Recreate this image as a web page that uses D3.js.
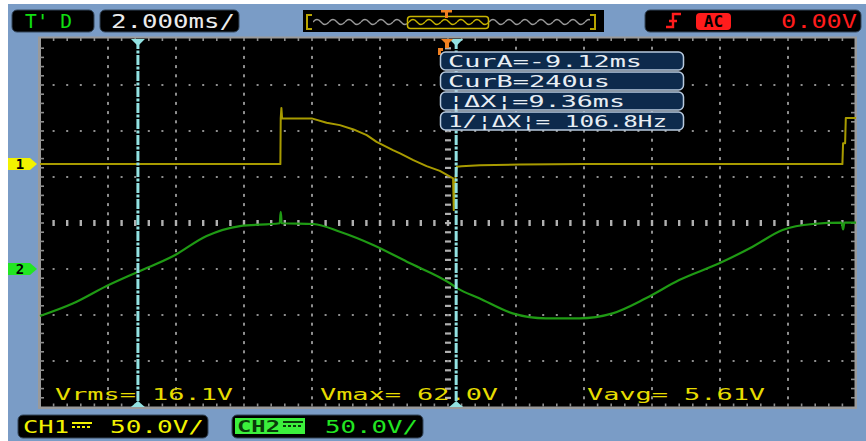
<!DOCTYPE html>
<html>
<head>
<meta charset="utf-8">
<script src="https://cdn.jsdelivr.net/npm/d3@7"></script>
<style>
  html, body { margin: 0; padding: 0; background: #7a9cc6; overflow: hidden; }
  svg { display: block; }
  text { font-family: "DejaVu Sans Mono", "Liberation Mono", monospace; }
</style>
</head>
<body>
<svg id="scope" width="866" height="441"></svg>
<script>
// ---- acquisition settings ----
const timePerDiv = 2;            // ms per division
const voltsPerDiv = [50, 50];    // CH1, CH2 (V/div)
const chOffsetDiv = [1.28, -1];  // ground reference of each channel, in divisions from centre

// ---- CH1 (yellow) samples: time in ms, voltage in V ----
const ch1Time  = [-12, -4.93, -4.92, -4.90, -4.88, -4.01, -3.57, -3.18, -2.78, -2.39, -2.10, -1.62, -1.41, -1.02, -0.63, -0.24, 0.15, 0.17, 0.19, 0.22, 0.26, 0.40, 0.94, 2.10, 4.00, 11.60, 11.62, 11.68, 11.70, 12];
const ch1Volts = [0, 0, 49.7, 60.9, 49.7, 49.7, 44.9, 42.4, 37.7, 31.5, 24.2, 15.2, 11.6, 4.3, -2.2, -7.3, -15.5, -50, -30, -15, -2.9, -2.2, -1.1, -0.5, 0, 0, 22.8, 22.8, 50, 50];

// ---- CH2 (green) samples ----
const ch2Time  = [-12, -11.02, -10.04, -9.11, -8.08, -7.10, -6.12, -4.95, -4.92, -4.89, -3.96, -3.18, -2.20, -1.21, 0.06, 0.28, 0.92, 1.90, 2.88, 3.86, 4.84, 5.82, 6.80, 7.98, 8.96, 9.84, 10.73, 11.58, 11.62, 11.66, 12];
const ch2Volts = [-51.1, -37.3, -18.5, -2.9, 14.1, 35.9, 46.7, 49.7, 62.0, 49.7, 48.9, 40.5, 26.1, 7.9, -15.5, -21.0, -31.8, -48.2, -53.6, -53.6, -48.2, -31.8, -12.0, 6.2, 24.2, 42.4, 48.9, 50.3, 43.0, 50.3, 50.3];

// ---- cursors and readouts ----
const cursorTimes = [-9.12, 0.24];   // CurA, CurB in ms
const cursorLabels = ["CurA=-9.12ms", "CurB=240us", "¦ΔX¦=9.36ms", "1/¦ΔX¦= 106.8Hz"];
const measureLabels = ["Vrms= 16.1V", "Vmax= 62.0V", "Vavg= 5.61V"];
const modeLabel = "T' D";
const timebaseLabel = "2.000ms/";
const triggerLevelLabel = "0.00V";
const channelNames = ["CH1", "CH2"];
const channelScaleLabels = ["50.0V/", "50.0V/"];

// ---- layout ----
const svg = d3.select("#scope");
const W = 866, H = 441;
const C = { bg: "#7a9cc6", grid: "#8e8e8e", border: "#9a9a9a", ch1: "#a89b00", ch2: "#1f9a14",
            ch1Tag: "#f2f200", ch2Tag: "#22e622", meas: "#e6dc00", cursor: "#92e2e2",
            boxFill: "#0d2a4c", boxStroke: "#b8cade", boxText: "#e8eef4", red: "#ff1c1c", orange: "#f08020" };

svg.append("rect").attr("width", W).attr("height", H).attr("fill", C.bg);
svg.append("rect").attr("width", W).attr("height", 4).attr("fill", "#ffffff");
svg.append("rect").attr("width", 8).attr("height", H).attr("fill", "#ffffff");

const x = d3.scaleLinear().domain([-6 * timePerDiv, 6 * timePerDiv]).range([40, 856]);
const yDiv = d3.scaleLinear().domain([-4, 4]).range([407, 39]);
const yCh = ch => v => yDiv(chOffsetDiv[ch] + v / voltsPerDiv[ch]);

// screen
svg.append("rect").attr("x", 40).attr("y", 38).attr("width", 816).attr("height", 370).attr("fill", "#000");

// ---- graticule ----
const g = svg.append("g");
const minorY = d3.range(1, 40).map(j => -4 + j / 5);
const minorX = d3.range(1, 60).map(m => -12 + m * 0.4);
// vertical major lines
d3.range(1, 12).forEach(i => {
  const t = -12 + i * timePerDiv;
  if (i === 6) {
    g.selectAll(null).data(minorY).enter().append("rect")
      .attr("x", x(t) - 3).attr("y", d => yDiv(d) - 1).attr("width", 6).attr("height", 2.2).attr("fill", "#b0b0b0");
  } else {
    g.selectAll(null).data(minorY).enter().append("rect")
      .attr("x", x(t) - 1).attr("y", d => yDiv(d) - 1.5).attr("width", 2).attr("height", 3).attr("fill", C.grid);
  }
});
// horizontal major lines
d3.range(1, 8).forEach(k => {
  const dv = -4 + k;
  if (k === 4) {
    g.selectAll(null).data(minorX).enter().append("rect")
      .attr("x", d => x(d) - 1.2).attr("y", yDiv(dv) - 3).attr("width", 2.4).attr("height", 6).attr("fill", "#b0b0b0");
  } else {
    g.selectAll(null).data(minorX).enter().append("rect")
      .attr("x", d => x(d) - 1).attr("y", yDiv(dv) - 1).attr("width", 2).attr("height", 2).attr("fill", C.grid);
  }
});
// border and edge ticks
g.append("rect").attr("x", 38).attr("y", 37).attr("width", 3).attr("height", 372).attr("fill", C.border);
g.append("rect").attr("x", 854.5).attr("y", 37).attr("width", 2.5).attr("height", 372).attr("fill", C.border);
g.append("rect").attr("x", 38).attr("y", 36.5).attr("width", 819).attr("height", 2).attr("fill", C.border);
g.append("rect").attr("x", 38).attr("y", 406.5).attr("width", 819).attr("height", 2.5).attr("fill", C.border);
g.selectAll(null).data(minorY).enter().append("rect")
  .attr("x", 40).attr("y", d => yDiv(d) - 0.8).attr("width", 4).attr("height", 1.6).attr("fill", C.grid);
g.selectAll(null).data(minorY).enter().append("rect")
  .attr("x", 851).attr("y", d => yDiv(d) - 0.8).attr("width", 4).attr("height", 1.6).attr("fill", C.grid);
g.selectAll(null).data(minorX).enter().append("rect")
  .attr("x", d => x(d) - 0.8).attr("y", 38).attr("width", 1.6).attr("height", 3).attr("fill", C.grid);
g.selectAll(null).data(minorX).enter().append("rect")
  .attr("x", d => x(d) - 0.8).attr("y", 403.5).attr("width", 1.6).attr("height", 3).attr("fill", C.grid);

// ---- traces ----
const ch1Data = ch1Time.map((t, i) => [t, ch1Volts[i]]);
const ch2Data = ch2Time.map((t, i) => [t, ch2Volts[i]]);
const y1 = yCh(0), y2 = yCh(1);
svg.append("path").datum(ch2Data)
  .attr("d", d3.line().x(d => x(d[0])).y(d => y2(d[1])).curve(d3.curveMonotoneX))
  .attr("fill", "none").attr("stroke", C.ch2).attr("stroke-width", 2.2);
svg.append("path").datum(ch1Data)
  .attr("d", d3.line().x(d => x(d[0])).y(d => y1(d[1])))
  .attr("fill", "none").attr("stroke", C.ch1).attr("stroke-width", 2).attr("stroke-linejoin", "round");

// channel ground markers
[0, 1].forEach(ch => {
  const yy = yCh(ch)(0);
  svg.append("path")
    .attr("d", `M8,${yy - 6}H30L37,${yy}L30,${yy + 6}H8Z`)
    .attr("fill", ch === 0 ? C.ch1Tag : C.ch2Tag);
  svg.append("text").attr("x", 20).attr("y", yy + 5).attr("text-anchor", "middle")
    .attr("font-size", 14).attr("font-weight", "bold").attr("fill", "#000").text(ch + 1);
});

// ---- measurements ----
const measX = [55, 320, 587];
measureLabels.forEach((s, i) => {
  svg.append("text").attr("x", measX[i]).attr("y", 400).attr("font-size", 16)
    .attr("textLength", 178).attr("lengthAdjust", "spacingAndGlyphs")
    .attr("fill", C.meas).text(s);
});

// ---- cursors ----
cursorTimes.forEach(t => {
  const cx = x(t);
  svg.append("line").attr("x1", cx).attr("x2", cx).attr("y1", 39).attr("y2", 406)
    .attr("stroke", C.cursor).attr("stroke-width", 3).attr("stroke-dasharray", "10,1.5,3,1.5");
  svg.append("path").attr("d", `M${cx - 7},39L${cx + 7},39L${cx},46Z`).attr("fill", C.cursor);
  svg.append("path").attr("d", `M${cx - 7},407L${cx + 7},407L${cx},401Z`).attr("fill", C.cursor);
});
// trigger position marker
const tx = x(0);
svg.append("path")
  .attr("d", `M${tx - 7},39H${tx + 5}L${tx + 1},43V48H${tx - 3}V43Z`)
  .attr("fill", C.orange);
svg.append("path").attr("d", `M${tx - 10},48H${tx - 5}V51H${tx - 7}V55H${tx - 10}Z`).attr("fill", C.orange);

// ---- cursor readout boxes ----
const boxTop = [52, 72, 92, 112];
const boxTextLen = [194, 162, 177, 219];
cursorLabels.forEach((s, i) => {
  svg.append("rect").attr("x", 440.5).attr("y", boxTop[i]).attr("width", 243).attr("height", 18)
    .attr("rx", 5).attr("fill", C.boxFill).attr("stroke", C.boxStroke).attr("stroke-width", 1.5);
  svg.append("text").attr("x", 448).attr("y", boxTop[i] + 15).attr("font-size", 15)
    .attr("textLength", boxTextLen[i]).attr("lengthAdjust", "spacingAndGlyphs")
    .attr("fill", C.boxText).text(s);
});

// ---- top status bar ----
const box = (bx, by, bw, bh, rx) => svg.append("rect").attr("x", bx).attr("y", by).attr("width", bw).attr("height", bh)
  .attr("rx", rx).attr("fill", "#000").attr("stroke", "#34465a").attr("stroke-width", 1);
box(12, 10, 82, 22, 5);
svg.append("text").attr("x", 25).attr("y", 28).attr("font-size", 20).attr("textLength", 47)
  .attr("lengthAdjust", "spacingAndGlyphs").attr("fill", "#10e010").text(modeLabel);
box(100, 10, 139, 22, 5);
svg.append("text").attr("x", 111).attr("y", 28).attr("font-size", 20).attr("textLength", 124)
  .attr("lengthAdjust", "spacingAndGlyphs").attr("fill", "#ececec").text(timebaseLabel);

// record overview
const defs = svg.append("defs");
[["waveGrey", "#9a9a9a"], ["waveYellow", "#c8b400"]].forEach(([id, col]) => {
  const p = defs.append("pattern").attr("id", id).attr("patternUnits", "userSpaceOnUse")
    .attr("x", 313).attr("y", 16).attr("width", 16).attr("height", 12);
  p.append("path").attr("d", "M0,6 Q4,1 8,6 T16,6").attr("fill", "none").attr("stroke", col).attr("stroke-width", 1.3);
});
svg.append("rect").attr("x", 303).attr("y", 10).attr("width", 301).attr("height", 22).attr("fill", "#000");
svg.append("rect").attr("x", 313).attr("y", 16).attr("width", 277).attr("height", 12).attr("fill", "url(#waveGrey)");
svg.append("rect").attr("x", 408).attr("y", 16).attr("width", 80).attr("height", 12).attr("fill", "#000");
svg.append("rect").attr("x", 408).attr("y", 16).attr("width", 80).attr("height", 12).attr("fill", "url(#waveYellow)");
svg.append("rect").attr("x", 407.5).attr("y", 16.5).attr("width", 81).attr("height", 12).attr("rx", 3)
  .attr("fill", "none").attr("stroke", "#c8b400").attr("stroke-width", 1.5);
svg.append("path").attr("d", "M312,15H307V29H312").attr("fill", "none").attr("stroke", "#b8a400").attr("stroke-width", 2);
svg.append("path").attr("d", "M590,15H595V29H590").attr("fill", "none").attr("stroke", "#b8a400").attr("stroke-width", 2);
svg.append("path").attr("d", "M441,10H452V12.5H448V18H445V12.5H441Z").attr("fill", C.orange);

// trigger status
box(645, 10, 216, 22, 5);
svg.append("path").attr("d", "M666,27H673V14H681M669,21H677").attr("fill", "none").attr("stroke", C.red).attr("stroke-width", 2.4);
svg.append("rect").attr("x", 696).attr("y", 13).attr("width", 35).attr("height", 17).attr("rx", 4).attr("fill", C.red);
svg.append("text").attr("x", 713.5).attr("y", 27).attr("text-anchor", "middle").attr("font-size", 16)
  .attr("font-weight", "bold").attr("fill", "#000").text("AC");
svg.append("text").attr("x", 781).attr("y", 28).attr("font-size", 20).attr("textLength", 76)
  .attr("lengthAdjust", "spacingAndGlyphs").attr("fill", C.red).text(triggerLevelLabel);

// ---- channel scale boxes ----
const dcSymbol = (sx, sy, col) => {
  svg.append("line").attr("x1", sx).attr("x2", sx + 20).attr("y1", sy).attr("y2", sy).attr("stroke", col).attr("stroke-width", 2);
  svg.append("line").attr("x1", sx).attr("x2", sx + 20).attr("y1", sy + 4).attr("y2", sy + 4).attr("stroke", col)
    .attr("stroke-width", 2).attr("stroke-dasharray", "3,2");
};
box(18, 415, 190, 23, 5);
svg.append("text").attr("x", 23).attr("y", 433).attr("font-size", 17).attr("textLength", 46)
  .attr("lengthAdjust", "spacingAndGlyphs").attr("fill", C.ch1Tag).text(channelNames[0]);
dcSymbol(72, 423, C.ch1Tag);
svg.append("text").attr("x", 110).attr("y", 433).attr("font-size", 17).attr("textLength", 94)
  .attr("lengthAdjust", "spacingAndGlyphs").attr("fill", C.ch1Tag).text(channelScaleLabels[0]);

box(232, 415, 191, 23, 5);
svg.append("rect").attr("x", 235).attr("y", 418).attr("width", 70).attr("height", 16).attr("fill", "#3cf03c");
svg.append("text").attr("x", 237).attr("y", 432).attr("font-size", 16).attr("font-weight", "bold").attr("textLength", 43)
  .attr("lengthAdjust", "spacingAndGlyphs").attr("fill", "#0a3a0a").text(channelNames[1]);
dcSymbol(283, 422, "#0a3a0a");
svg.append("text").attr("x", 325).attr("y", 433).attr("font-size", 17).attr("textLength", 93)
  .attr("lengthAdjust", "spacingAndGlyphs").attr("fill", "#22e622").text(channelScaleLabels[1]);
</script>
</body>
</html>
